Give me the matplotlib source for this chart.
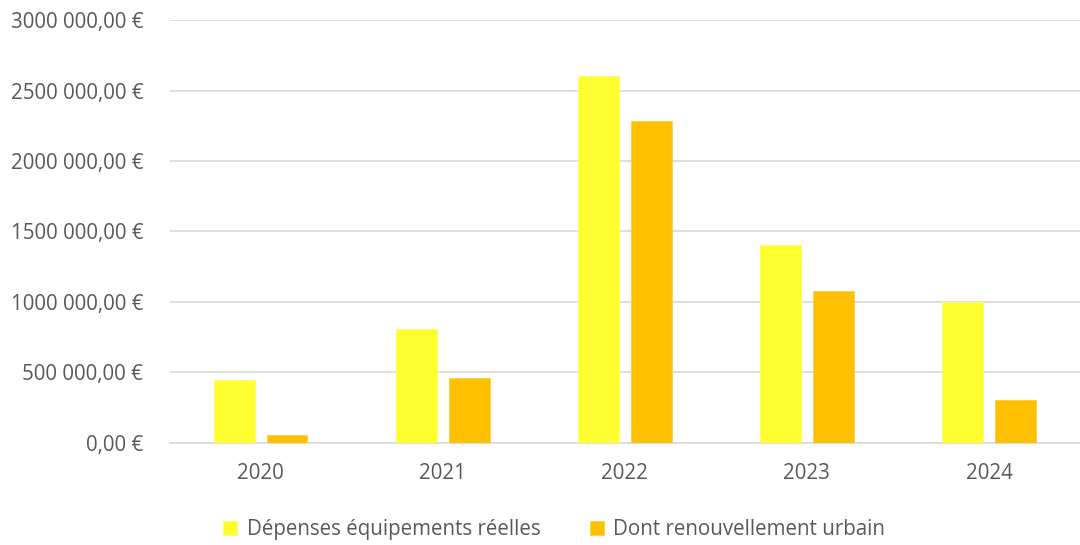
import numpy as np
import matplotlib
matplotlib.use('Agg')
import matplotlib.pyplot as plt
from matplotlib.ticker import FuncFormatter

years = ['2020', '2021', '2022', '2023', '2024']
depenses = [444000, 806000, 2602000, 1405000, 995000]
renouvellement = [53000, 460000, 2283000, 1076000, 302000]

plt.rcParams['font.family'] = ['Open Sans', 'DejaVu Sans']
txt = '#595959'

fig = plt.figure(figsize=(10.8, 5.45), dpi=100)
ax = fig.add_axes([0.157, 0.188, 0.843, 0.775])

x = np.arange(len(years))
w = 0.225
ax.bar(x - 0.145, depenses, w, color='#FFFF2F', edgecolor='#FFFF66', linewidth=0.6,
       label='Dépenses équipements réelles', zorder=3)
ax.bar(x + 0.145, renouvellement, w, color='#FFC000', edgecolor='#FFD040', linewidth=0.6,
       label='Dont renouvellement urbain', zorder=3)

ax.set_xlim(-0.5, len(years) - 0.5)
ax.set_ylim(0, 3000000)
ax.set_yticks(np.arange(0, 3000001, 500000))


def euro(v, pos):
    s = '{:,.2f}'.format(v).replace(',', ' ').replace('.', ',')
    # milliers sans espace quand < 10 000 000
    parts = s.split(' ')
    if len(parts) == 3:
        s = parts[0] + parts[1] + ' ' + parts[2]
    return s + ' €'


ax.yaxis.set_major_formatter(FuncFormatter(euro))
ax.set_xticks(x)
ax.set_xticklabels(years)
ax.grid(axis='y', color='#D9D9D9', linewidth=1.2, zorder=0)
for s in ['top', 'right', 'left']:
    ax.spines[s].set_visible(False)
ax.spines['bottom'].set_color('#D9D9D9')
ax.spines['bottom'].set_linewidth(1.2)
ax.tick_params(axis='both', length=0, colors=txt, labelsize=14.8)
ax.tick_params(axis='y', pad=19)
ax.tick_params(axis='x', pad=15)

fig.legend(loc='lower center', bbox_to_anchor=(0.513, -0.025), ncol=2, frameon=False,
           fontsize=14.8, labelcolor=txt, handlelength=0.7, handleheight=0.7,
           handletextpad=0.45, columnspacing=2.4)

fig.savefig('out.png', dpi=100)
